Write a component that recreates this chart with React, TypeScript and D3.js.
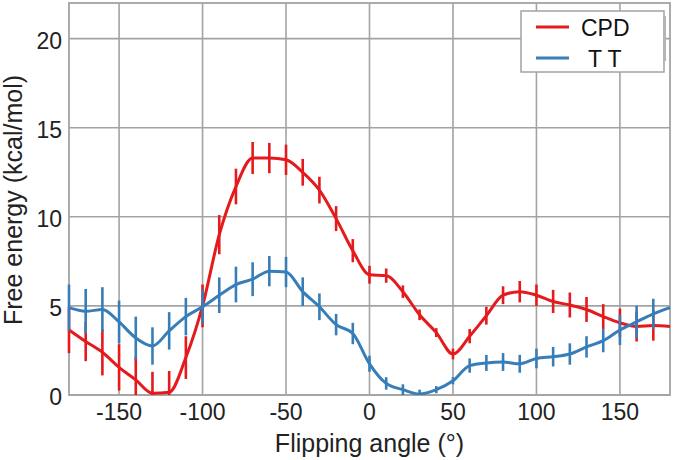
import React from 'react';
import * as d3 from 'd3';

// flipping angle (deg), one point every 10 degrees
const angles = d3.range(-180, 181, 10);

const cpdEnergy = [
  3.65, 3.0, 2.4, 1.55, 0.85, 0.1, 0.15, 2.1, 5.0, 9.0, 11.7, 13.3, 13.3, 13.2, 12.5, 11.5, 9.9, 8.1,
  6.75, 6.7, 5.8, 4.5, 3.5, 2.3, 3.3, 4.45, 5.6, 5.8, 5.6, 5.25, 5.05, 4.8, 4.4, 4.05, 3.85, 3.9, 3.85,
];
const cpdError = [
  1.3, 1.1, 1.3, 1.3, 1.3, 1.2, 1.2, 1.2, 1.2, 1.1, 1.0, 0.9, 0.85, 0.85, 0.75, 0.75, 0.7, 0.65,
  0.5, 0.4, 0.35, 0.3, 0.25, 0.3, 0.4, 0.5, 0.5, 0.6, 0.6, 0.65, 0.7, 0.7, 0.7, 0.8, 0.85, 0.85, 0,
];

const ttEnergy = [
  4.9, 4.7, 4.8, 4.1, 3.2, 2.75, 3.6, 4.4, 4.95, 5.6, 6.2, 6.5, 6.95, 6.9, 5.8, 4.95, 3.95, 3.45,
  1.75, 0.65, 0.3, 0.05, 0.3, 0.8, 1.65, 1.8, 1.85, 1.75, 2.05, 2.15, 2.3, 2.7, 3.05, 3.65, 4.1, 4.55, 4.9,
];
const ttError = [
  1.3, 1.25, 1.25, 1.2, 1.2, 1.05, 1.05, 1.05, 0.95, 1.0, 1.0, 0.95, 0.85, 0.85, 0.8, 0.75, 0.6, 0.6,
  0.45, 0.35, 0.3, 0.25, 0.2, 0.2, 0.4, 0.45, 0.5, 0.5, 0.55, 0.55, 0.6, 0.6, 0.65, 0.85, 0.9, 0.85, 0,
];

const xTicks = [-150, -100, -50, 0, 50, 100, 150];
const yTicks = [0, 5, 10, 15, 20];

const seriesList = [
  { name: 'CPD', values: cpdEnergy, errors: cpdError, color: '#e41a1c' },
  { name: 'T T', values: ttEnergy, errors: ttError, color: '#377eb8' },
];

const W = 675;
const H = 460;
const margin = { top: 3, right: 5, bottom: 65, left: 69 };
const font = '"Liberation Sans", Arial, sans-serif';
const gridColor = '#a3a3a3';

export default function App() {
  const x = d3.scaleLinear().domain([-180, 180]).range([margin.left, W - margin.right]);
  const y = d3.scaleLinear().domain([0, 22]).range([H - margin.bottom, margin.top]);

  const line = d3
    .line<number>()
    .x((_, i) => x(angles[i]))
    .y(d => y(d))
    .curve(d3.curveMonotoneX);

  const x0 = x.range()[0];
  const x1 = x.range()[1];
  const y0 = y.range()[0];
  const y1 = y.range()[1];

  return (
    <svg width={W} height={H} style={{ position: 'absolute', left: 0, top: 0, background: '#fff' }}>
      <defs>
        <clipPath id="plot">
          <rect x={x0 - 3} y={y1} width={x1 - x0 + 6} height={y0 - y1} />
        </clipPath>
      </defs>

      {/* grid */}
      {xTicks.map(t => (
        <line key={'gx' + t} x1={x(t)} x2={x(t)} y1={y1} y2={y0} stroke={gridColor} strokeWidth={1.6} />
      ))}
      {yTicks.map(t => (
        <line key={'gy' + t} x1={x0} x2={x1} y1={y(t)} y2={y(t)} stroke={gridColor} strokeWidth={1.6} />
      ))}
      <rect x={x0} y={y1} width={x1 - x0} height={y0 - y1} fill="none" stroke={gridColor} strokeWidth={1.8} />

      {/* series */}
      <g clipPath="url(#plot)">
        {seriesList.map(s => (
          <g key={s.name}>
            <path d={line(s.values) || ''} fill="none" stroke={s.color} strokeWidth={3} strokeLinejoin="round" />
            {s.errors.map((e, i) =>
              e > 0 ? (
                <line
                  key={i}
                  x1={x(angles[i])}
                  x2={x(angles[i])}
                  y1={y(s.values[i] - e)}
                  y2={y(s.values[i] + e)}
                  stroke={s.color}
                  strokeWidth={2.6}
                />
              ) : null
            )}
          </g>
        ))}
      </g>

      {/* tick labels */}
      {xTicks.map(t => (
        <text key={'tx' + t} x={x(t)} y={y0 + 25} textAnchor="middle" fontFamily={font} fontSize={23} fill="#222">
          {t}
        </text>
      ))}
      {yTicks.map(t => (
        <text key={'ty' + t} x={x0 - 7} y={y(t) + 10} textAnchor="end" fontFamily={font} fontSize={23} fill="#222">
          {t}
        </text>
      ))}

      {/* axis titles */}
      <text x={(x0 + x1) / 2} y={452} textAnchor="middle" fontFamily={font} fontSize={25} fill="#222">
        Flipping angle (°)
      </text>
      <text
        transform={`translate(22,${(y0 + y1) / 2 + 1}) rotate(-90)`}
        textAnchor="middle"
        fontFamily={font}
        fontSize={25}
        fill="#222"
      >
        Free energy (kcal/mol)
      </text>

      {/* legend */}
      <g>
        <rect x={521} y={11} width={143} height={61} fill="#fff" stroke={gridColor} strokeWidth={1.5} />
        <rect x={663} y={16} width={3} height={45} fill="#b5b5b5" />
        {seriesList.map((s, i) => (
          <g key={'lg' + s.name} transform={`translate(0,${27 + i * 31})`}>
            <line x1={536} x2={569} y1={0} y2={0} stroke={s.color} strokeWidth={3} />
            <text x={i === 0 ? 581 : 588} y={8.5} fontFamily={font} fontSize={23} fill="#111">
              {s.name}
            </text>
          </g>
        ))}
      </g>
    </svg>
  );
}
